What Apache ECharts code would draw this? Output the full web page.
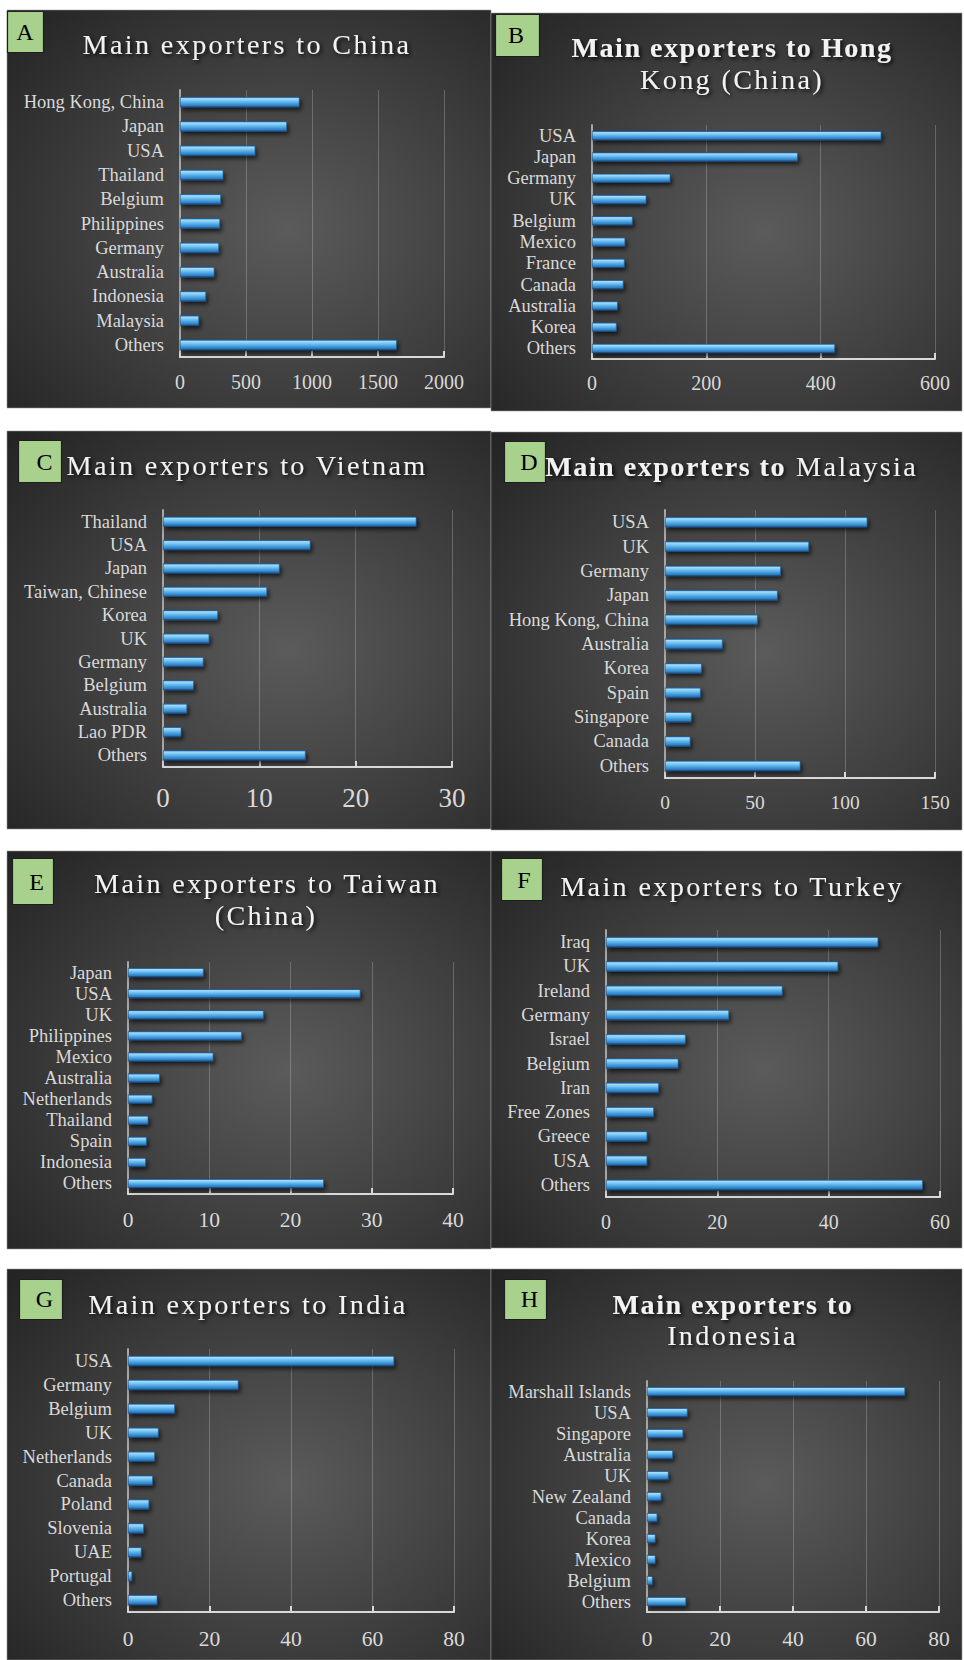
<!DOCTYPE html>
<html>
<head>
<meta charset="utf-8">
<title>Main exporters</title>
<script src="https://cdn.jsdelivr.net/npm/echarts@6/dist/echarts.min.js"></script>
<style>
  html, body { margin: 0; padding: 0; background: #ffffff; }
  #chart { width: 964px; height: 1660px; }
  /* spaced-out panel headings (regular and bold runs) */
  #chart text[style*="28.2px"] { letter-spacing: 2.35px; }
  #chart text[style*="28.1px"] { letter-spacing: 1.5px; }
</style>
</head>
<body>
<div id="chart"></div>
<script>
// ---- data -------------------------------------------------------------
const chinaCats = ['Hong Kong, China', 'Japan', 'USA', 'Thailand', 'Belgium', 'Philippines', 'Germany', 'Australia', 'Indonesia', 'Malaysia', 'Others'];
const chinaVals = [905, 810, 570, 328, 310, 303, 295, 260, 197, 144, 1642];
const chinaTicks = [0, 500, 1000, 1500, 2000];

const hongKongCats = ['USA', 'Japan', 'Germany', 'UK', 'Belgium', 'Mexico', 'France', 'Canada', 'Australia', 'Korea', 'Others'];
const hongKongVals = [506, 360, 137, 95, 71, 58, 57, 55, 45, 43, 425];
const hongKongTicks = [0, 200, 400, 600];

const vietnamCats = ['Thailand', 'USA', 'Japan', 'Taiwan, Chinese', 'Korea', 'UK', 'Germany', 'Belgium', 'Australia', 'Lao PDR', 'Others'];
const vietnamVals = [26.3, 15.3, 12.1, 10.8, 5.7, 4.8, 4.2, 3.2, 2.5, 1.9, 14.8];
const vietnamTicks = [0, 10, 20, 30];

const malaysiaCats = ['USA', 'UK', 'Germany', 'Japan', 'Hong Kong, China', 'Australia', 'Korea', 'Spain', 'Singapore', 'Canada', 'Others'];
const malaysiaVals = [112.4, 80, 64.3, 62.6, 51.5, 32, 20.4, 19.8, 14.8, 14.1, 75.2];
const malaysiaTicks = [0, 50, 100, 150];

const taiwanCats = ['Japan', 'USA', 'UK', 'Philippines', 'Mexico', 'Australia', 'Netherlands', 'Thailand', 'Spain', 'Indonesia', 'Others'];
const taiwanVals = [9.3, 28.6, 16.7, 14.0, 10.5, 3.9, 3.0, 2.5, 2.3, 2.2, 24.1];
const taiwanTicks = [0, 10, 20, 30, 40];

const turkeyCats = ['Iraq', 'UK', 'Ireland', 'Germany', 'Israel', 'Belgium', 'Iran', 'Free Zones', 'Greece', 'USA', 'Others'];
const turkeyVals = [48.9, 41.7, 31.7, 22.1, 14.3, 13.0, 9.5, 8.6, 7.4, 7.4, 56.9];
const turkeyTicks = [0, 20, 40, 60];

const indiaCats = ['USA', 'Germany', 'Belgium', 'UK', 'Netherlands', 'Canada', 'Poland', 'Slovenia', 'UAE', 'Portugal', 'Others'];
const indiaVals = [65.3, 27.1, 11.5, 7.5, 6.6, 6.1, 5.2, 3.9, 3.3, 1.0, 7.2];
const indiaTicks = [0, 20, 40, 60, 80];

const indonesiaCats = ['Marshall Islands', 'USA', 'Singapore', 'Australia', 'UK', 'New Zealand', 'Canada', 'Korea', 'Mexico', 'Belgium', 'Others'];
const indonesiaVals = [70.7, 11.1, 9.9, 7.1, 5.9, 3.9, 2.8, 2.3, 2.3, 1.5, 10.7];
const indonesiaTicks = [0, 20, 40, 60, 80];

// ---- panel layout (pixels) ---------------------------------------------
const SERIF = 'Liberation Serif, Times New Roman, serif';
const panels = [
  { letter: 'A', cats: chinaCats, vals: chinaVals, ticks: chinaTicks,
    rect: [7, 10, 484, 398], box: [7, 11, 36, 41], letterPos: [25, 32],
    grid: [180, 90, 444, 357], tickSize: 20, tickMargin: 15,
    heading: [{ text: 'Main exporters to China', x: 247, y: 44.5 }] },
  { letter: 'B', cats: hongKongCats, vals: hongKongVals, ticks: hongKongTicks,
    rect: [491, 13, 471, 398], box: [495, 14, 44, 42], letterPos: [516, 35],
    grid: [592, 125, 935, 359], tickSize: 20, tickMargin: 14,
    heading: [{ text: 'Main exporters to Hong', x: 732, y: 47.5, bold: true },
              { text: 'Kong (China)', x: 732, y: 79.5 }] },
  { letter: 'C', cats: vietnamCats, vals: vietnamVals, ticks: vietnamTicks,
    rect: [7, 431, 484, 398], box: [18, 440, 43, 42], letterPos: [44.5, 461.5],
    grid: [163, 510, 452, 767], tickSize: 27, tickMargin: 17,
    heading: [{ text: 'Main exporters to Vietnam', x: 247, y: 465 }] },
  { letter: 'D', cats: malaysiaCats, vals: malaysiaVals, ticks: malaysiaTicks,
    rect: [491, 432, 471, 398], box: [504, 441, 41, 41], letterPos: [529, 461.5],
    grid: [665, 510, 935, 778], tickSize: 19.5, tickMargin: 14,
    heading: [{ text: 'Main exporters to', x: 786, y: 466, bold: true, align: 'right' },
              { text: 'Malaysia', x: 796, y: 466, align: 'left' }] },
  { letter: 'E', cats: taiwanCats, vals: taiwanVals, ticks: taiwanTicks,
    rect: [7, 851, 484, 398], box: [12, 858, 41, 46], letterPos: [36.5, 881.5],
    grid: [128, 962, 453, 1194], tickSize: 21.5, tickMargin: 15,
    heading: [{ text: 'Main exporters to Taiwan', x: 267, y: 883.5 },
              { text: '(China)', x: 266, y: 915 }] },
  { letter: 'F', cats: turkeyCats, vals: turkeyVals, ticks: turkeyTicks,
    rect: [491, 851, 471, 397], box: [501, 858, 41, 42], letterPos: [524, 879.5],
    grid: [606, 930, 940, 1197], tickSize: 20, tickMargin: 15,
    heading: [{ text: 'Main exporters to Turkey', x: 732, y: 886 }] },
  { letter: 'G', cats: indiaCats, vals: indiaVals, ticks: indiaTicks,
    rect: [7, 1269, 484, 391], box: [19, 1279, 43, 40], letterPos: [44.5, 1299],
    grid: [128, 1349, 454, 1612], tickSize: 21.5, tickMargin: 16,
    heading: [{ text: 'Main exporters to India', x: 248, y: 1304 }] },
  { letter: 'H', cats: indonesiaCats, vals: indonesiaVals, ticks: indonesiaTicks,
    rect: [491, 1269, 471, 391], box: [504, 1279, 42, 40], letterPos: [529.5, 1299],
    grid: [647, 1381, 939, 1612], tickSize: 21.5, tickMargin: 16,
    heading: [{ text: 'Main exporters to', x: 733, y: 1304.5, bold: true },
              { text: 'Indonesia', x: 732.5, y: 1335 }] }
];

// ---- styles -------------------------------------------------------------
const panelFill = {
  type: 'radial', x: 0.58, y: 0.55, r: 0.78,
  colorStops: [
    { offset: 0, color: '#5b5b5b' },
    { offset: 0.55, color: '#3d3d3d' },
    { offset: 1, color: '#242424' }
  ]
};
const barFill = {
  type: 'linear', x: 0, y: 0, x2: 0, y2: 1,
  colorStops: [
    { offset: 0, color: '#2f78bd' },
    { offset: 0.14, color: '#a4dcfa' },
    { offset: 0.32, color: '#7fcaf4' },
    { offset: 0.6, color: '#4aa5e3' },
    { offset: 0.86, color: '#2f7dc2' },
    { offset: 1, color: '#1b4c82' }
  ]
};

const grids = [], xAxes = [], yAxes = [], series = [], graphics = [];

panels.forEach((p, i) => {
  const [gl, gt, gr, gb] = p.grid;
  grids.push({ left: gl, top: gt, width: gr - gl, height: gb - gt, containLabel: false });

  xAxes.push({
    type: 'value', gridIndex: i,
    min: p.ticks[0], max: p.ticks[p.ticks.length - 1], interval: p.ticks[1] - p.ticks[0],
    axisLine: { show: true, lineStyle: { color: '#d9d9d9', width: 2 } },
    axisTick: { show: true, inside: true, length: 6, lineStyle: { color: '#d9d9d9', width: 2 } },
    splitLine: { show: true, lineStyle: { color: 'rgba(255,255,255,0.22)', width: 1 } },
    axisLabel: {
      color: '#d9d9d9', fontFamily: SERIF, fontSize: p.tickSize, margin: p.tickMargin,
      formatter: v => String(v)
    }
  });

  yAxes.push({
    type: 'category', gridIndex: i, data: p.cats, inverse: true,
    axisLine: { show: true, lineStyle: { color: '#a6a6a6', width: 2 } },
    axisTick: { show: false },
    axisLabel: { color: '#d9d9d9', fontFamily: SERIF, fontSize: 18.5, margin: 16, interval: 0 }
  });

  series.push({
    type: 'bar', xAxisIndex: i, yAxisIndex: i, data: p.vals,
    barWidth: '43%',
    itemStyle: {
      color: barFill, borderColor: '#1d5894', borderWidth: 0.6,
      shadowColor: 'rgba(0,0,0,0.65)', shadowBlur: 4, shadowOffsetX: 2, shadowOffsetY: 3
    }
  });

  // panel background
  graphics.push({
    type: 'rect', z: -100, silent: true,
    shape: { x: p.rect[0], y: p.rect[1], width: p.rect[2], height: p.rect[3] },
    style: { fill: panelFill, stroke: 'rgba(150,150,150,0.55)', lineWidth: 1 }
  });
  // green letter tag
  graphics.push({
    type: 'rect', z: 100, silent: true,
    shape: { x: p.box[0] + 0.5, y: p.box[1] + 0.5, width: p.box[2], height: p.box[3] },
    style: { fill: '#a9d18e', stroke: '#1e1e1e', lineWidth: 1.2 }
  });
  graphics.push({
    type: 'text', z: 101, silent: true,
    style: {
      text: p.letter, x: p.letterPos[0], y: p.letterPos[1],
      fill: '#000000', fontFamily: SERIF, fontSize: 24,
      textAlign: 'center', textVerticalAlign: 'middle'
    }
  });
  // heading runs
  p.heading.forEach(h => {
    graphics.push({
      type: 'text', z: 101, silent: true,
      style: {
        text: h.text, x: h.x, y: h.y,
        fill: '#f2f2f2', fontFamily: SERIF,
        fontSize: h.bold ? 28.1 : 28.2, fontWeight: h.bold ? 'bold' : 'normal',
        textAlign: h.align || 'center', textVerticalAlign: 'middle',
        textShadowColor: 'rgba(0,0,0,0.85)', textShadowBlur: 4,
        textShadowOffsetX: 2, textShadowOffsetY: 2
      }
    });
  });
});

const chart = echarts.init(document.getElementById('chart'), null, { renderer: 'svg' });
chart.setOption({
  animation: false,
  backgroundColor: '#ffffff',
  grid: grids,
  xAxis: xAxes,
  yAxis: yAxes,
  series: series,
  graphic: { elements: graphics }
});
</script>
</body>
</html>
